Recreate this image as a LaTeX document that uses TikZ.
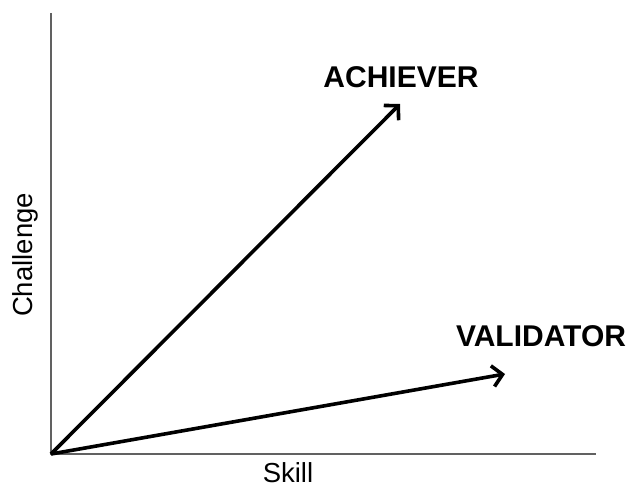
\documentclass[tikz,border=0pt]{standalone}
\usepackage{fontspec}
\setmainfont{Liberation Sans}
\usetikzlibrary{positioning,arrows.meta}

\begin{document}
\begin{tikzpicture}[x=1pt,y=-1pt,
    axisline/.style={line width=2pt, draw=black!62},
    growth/.style={line width=3.6pt, -{Straight Barb[length=10pt,width=21pt]}},
    tag/.style={font=\fontsize{30}{36}\selectfont\bfseries},
    axislabel/.style={font=\fontsize{27.5}{32}\selectfont}]

\useasboundingbox (0,0) rectangle (629,492);


\coordinate (O) at (51,454);
\coordinate (Ytop) at (51,13);
\coordinate (Xend) at (596,454);
\coordinate (achTip) at (400,104);
\coordinate (valTip) at (505,374);


\draw[axisline] (Ytop) -- (O) -- (Xend);


\draw[growth] (O) -- (achTip);
\draw[growth] (O) -- (valTip);


\node[tag] (achiever) at (401,77) {ACHIEVER};
\node[tag] (validator) at (541,336) {VALIDATOR};

\node[axislabel] (skill) at (288,473) {Skill};
\node[axislabel, rotate=90] (challenge) at (25,255) {Challenge};

\end{tikzpicture}
\end{document}
